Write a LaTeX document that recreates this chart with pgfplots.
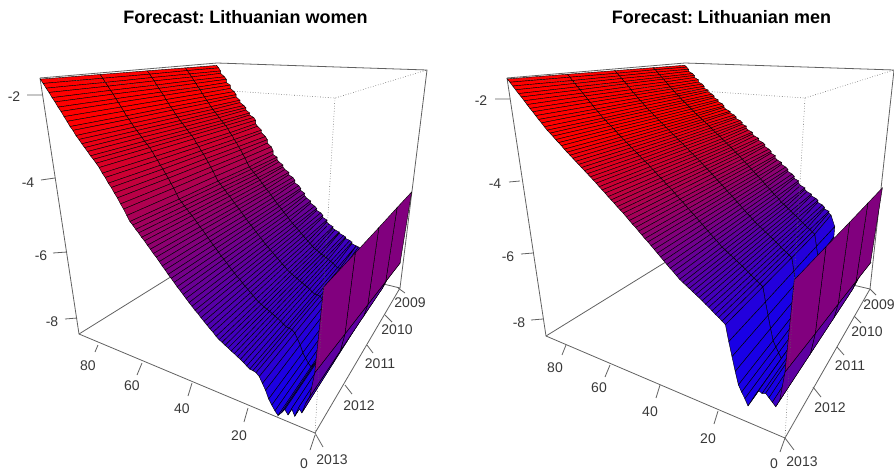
\documentclass[border=0pt]{standalone}
\usepackage{fontspec}
\setmainfont{Liberation Sans}
\usepackage{pgfplots}
\pgfplotsset{compat=1.18}
\colorlet{boxc}{black!62}
\colorlet{txtc}{black!78}
\tikzset{lab/.style={font=\fontsize{14}{14}\selectfont,text=txtc,inner sep=0pt},
 ttl/.style={font=\fontsize{18}{18}\selectfont\bfseries\frenchspacing,text=black,inner sep=0pt}}
\pgfplotsset{
 prj/.style n args={6}{
  /pgfplots/table/x expr={#2+(335+(#3)*((#1-floor(\coordindex/5))/90)+429*(1-mod(\coordindex,5)/4)+87*(#5+(-2-\thisrowno{0})*#6))/(1+0.46*((#1-floor(\coordindex/5))/90)+0.79*(1-mod(\coordindex,5)/4)+0.34*(#5+(-2-\thisrowno{0})*#6))},
  /pgfplots/table/y expr={(98+15.9*((#1-floor(\coordindex/5))/90)+31.6*(1-mod(\coordindex,5)/4)+(#4)*(#5+(-2-\thisrowno{0})*#6))/(1+0.46*((#1-floor(\coordindex/5))/90)+0.79*(1-mod(\coordindex,5)/4)+0.34*(#5+(-2-\thisrowno{0})*#6))}
 }
}
\begin{document}
\begin{tikzpicture}[x=1pt,y=1pt]
\useasboundingbox (0,0) rectangle (894,472);
\clip (0,0) rectangle (894,472);
\begin{axis}[at={(0,0)},anchor=south west,scale only axis,width=894pt,height=472pt,
 xmin=0,xmax=894,ymin=0,ymax=472,y dir=reverse,axis lines=none,clip=false,
 colormap={rb}{rgb255=(25,0,230) rgb255=(255,0,0)},point meta min=0,point meta max=1000]
% ---- box, back part, left
\draw[boxc,line width=.8pt] (40,78)--(79,334)--(315,433)--(400,288)--(427,70)--(217,63)--(40,78);
\draw[boxc,line width=.8pt] (79,334)--(222,245)--(400,288);
% ---- women: rows age 90..1, columns 2009..2013
\addplot[surf,shader=faceted,faceted color=black,line width=.42pt,mesh/cols=5,
 point meta={ifthenelse(\coordindex>434,300,max(0,min(1000,1000*(\thisrowno{0}+8)/5.5)))}]
 table[row sep=crcr,header=false,prj={90}{0}{-276.5}{482}{0.0551}{0.147}]{
-1.65\\-1.65\\-1.65\\-1.65\\-1.65\\
-1.73\\-1.73\\-1.74\\-1.74\\-1.74\\
-1.83\\-1.83\\-1.83\\-1.84\\-1.84\\
-1.91\\-1.92\\-1.92\\-1.93\\-1.93\\
-2.02\\-2.02\\-2.03\\-2.03\\-2.04\\
-2.10\\-2.11\\-2.12\\-2.12\\-2.13\\
-2.21\\-2.22\\-2.22\\-2.23\\-2.24\\
-2.29\\-2.30\\-2.31\\-2.32\\-2.33\\
-2.40\\-2.41\\-2.42\\-2.43\\-2.44\\
-2.50\\-2.51\\-2.52\\-2.53\\-2.54\\
-2.60\\-2.61\\-2.62\\-2.64\\-2.65\\
-2.68\\-2.69\\-2.70\\-2.72\\-2.73\\
-2.78\\-2.80\\-2.81\\-2.82\\-2.84\\
-2.86\\-2.88\\-2.89\\-2.91\\-2.92\\
-2.95\\-2.96\\-2.98\\-2.99\\-3.01\\
-3.02\\-3.04\\-3.05\\-3.07\\-3.09\\
-3.10\\-3.12\\-3.14\\-3.15\\-3.17\\
-3.19\\-3.21\\-3.22\\-3.24\\-3.26\\
-3.26\\-3.28\\-3.30\\-3.31\\-3.33\\
-3.33\\-3.35\\-3.37\\-3.39\\-3.41\\
-3.42\\-3.44\\-3.46\\-3.48\\-3.50\\
-3.54\\-3.56\\-3.58\\-3.60\\-3.62\\
-3.62\\-3.64\\-3.67\\-3.69\\-3.71\\
-3.74\\-3.76\\-3.78\\-3.81\\-3.83\\
-3.83\\-3.85\\-3.87\\-3.90\\-3.92\\
-3.95\\-3.97\\-3.99\\-4.02\\-4.04\\
-4.05\\-4.07\\-4.09\\-4.12\\-4.14\\
-4.17\\-4.20\\-4.22\\-4.25\\-4.27\\
-4.28\\-4.31\\-4.33\\-4.36\\-4.38\\
-4.42\\-4.45\\-4.47\\-4.50\\-4.52\\
-4.55\\-4.58\\-4.60\\-4.63\\-4.65\\
-4.62\\-4.65\\-4.67\\-4.70\\-4.72\\
-4.71\\-4.74\\-4.76\\-4.79\\-4.81\\
-4.78\\-4.81\\-4.83\\-4.86\\-4.88\\
-4.87\\-4.89\\-4.92\\-4.95\\-4.97\\
-4.94\\-4.96\\-4.99\\-5.01\\-5.04\\
-5.02\\-5.05\\-5.08\\-5.10\\-5.13\\
-5.10\\-5.13\\-5.16\\-5.18\\-5.21\\
-5.19\\-5.22\\-5.25\\-5.27\\-5.30\\
-5.26\\-5.29\\-5.32\\-5.34\\-5.37\\
-5.35\\-5.38\\-5.41\\-5.43\\-5.46\\
-5.44\\-5.47\\-5.50\\-5.52\\-5.55\\
-5.52\\-5.55\\-5.58\\-5.60\\-5.63\\
-5.61\\-5.64\\-5.67\\-5.69\\-5.72\\
-5.68\\-5.71\\-5.74\\-5.77\\-5.80\\
-5.76\\-5.79\\-5.82\\-5.85\\-5.88\\
-5.85\\-5.88\\-5.91\\-5.94\\-5.97\\
-5.92\\-5.95\\-5.98\\-6.01\\-6.04\\
-6.00\\-6.03\\-6.06\\-6.09\\-6.12\\
-6.08\\-6.11\\-6.14\\-6.17\\-6.20\\
-6.16\\-6.19\\-6.22\\-6.25\\-6.28\\
-6.23\\-6.26\\-6.29\\-6.32\\-6.35\\
-6.30\\-6.33\\-6.36\\-6.40\\-6.43\\
-6.36\\-6.39\\-6.43\\-6.46\\-6.49\\
-6.44\\-6.47\\-6.50\\-6.54\\-6.57\\
-6.51\\-6.54\\-6.57\\-6.61\\-6.64\\
-6.58\\-6.61\\-6.64\\-6.68\\-6.71\\
-6.65\\-6.68\\-6.71\\-6.75\\-6.78\\
-6.71\\-6.74\\-6.77\\-6.81\\-6.84\\
-6.78\\-6.82\\-6.85\\-6.89\\-6.92\\
-6.84\\-6.88\\-6.91\\-6.95\\-6.98\\
-6.88\\-6.92\\-6.95\\-6.99\\-7.02\\
-6.93\\-6.97\\-7.00\\-7.04\\-7.07\\
-6.97\\-7.01\\-7.04\\-7.08\\-7.11\\
-7.02\\-7.05\\-7.09\\-7.12\\-7.16\\
-7.06\\-7.09\\-7.13\\-7.16\\-7.20\\
-7.11\\-7.14\\-7.18\\-7.21\\-7.25\\
-7.15\\-7.18\\-7.22\\-7.25\\-7.29\\
-7.20\\-7.23\\-7.27\\-7.30\\-7.34\\
-7.25\\-7.29\\-7.33\\-7.36\\-7.40\\
-7.30\\-7.34\\-7.38\\-7.41\\-7.45\\
-7.30\\-7.34\\-7.38\\-7.42\\-7.46\\
-7.32\\-7.36\\-7.40\\-7.44\\-7.48\\
-7.38\\-7.42\\-7.47\\-7.51\\-7.55\\
-7.52\\-7.56\\-7.61\\-7.65\\-7.70\\
-7.66\\-7.71\\-7.76\\-7.80\\-7.85\\
-7.85\\-7.90\\-7.95\\-8.00\\-8.05\\
-7.98\\-8.03\\-8.08\\-8.13\\-8.18\\
-8.08\\-8.14\\-8.19\\-8.25\\-8.30\\
-8.15\\-8.21\\-8.27\\-8.33\\-8.39\\
-8.05\\-8.11\\-8.17\\-8.22\\-8.28\\
-7.95\\-8.00\\-8.05\\-8.10\\-8.15\\
-8.05\\-8.10\\-8.15\\-8.21\\-8.26\\
-7.90\\-7.94\\-7.98\\-8.01\\-8.05\\
-8.02\\-8.07\\-8.12\\-8.17\\-8.22\\
-7.85\\-7.87\\-7.90\\-7.93\\-7.95\\
-7.90\\-7.94\\-7.98\\-8.01\\-8.05\\
-7.65\\-7.67\\-7.70\\-7.73\\-7.75\\
-7.70\\-7.66\\-7.62\\-7.58\\-7.55\\
-7.56\\-7.40\\-7.24\\-7.08\\-6.92\\
};
% women: the facet between age 1 and age 0
\addplot[surf,shader=faceted,faceted color=black,line width=.42pt,mesh/cols=5,point meta={450}]
 table[row sep=crcr,header=false,prj={1}{0}{-276.5}{482}{0.0551}{0.147}]{
-7.56\\-7.40\\-7.24\\-7.08\\-6.92\\
-5.12\\-5.08\\-5.05\\-5.01\\-4.97\\
};
% ---- box, front dotted, left
\draw[boxc,line width=.6pt,dotted] (40,78)--(335,98)--(427,70);
\draw[boxc,line width=.6pt,dotted] (335,98)--(315,433);
% ---- ticks, left
\draw[boxc,line width=.8pt] (42,95)--(27,95) (55,178)--(41,180) (67,252)--(53,253) (77,318)--(65,319)
 (98,345)--(95,352) (142,363)--(137,375) (192,383)--(188,396) (248,408)--(244,422) (315,435)--(310,450)
 (398,288)--(405,293) (385,315)--(392,322) (367,345)--(373,353) (345,385)--(352,394) (315,433)--(323,447);
\node[lab] at (14,97) {-2}; \node[lab] at (28,183) {-4}; \node[lab] at (41,256) {-6}; \node[lab] at (52,322) {-8};
\node[lab] at (88,366) {80}; \node[lab] at (132,386) {60}; \node[lab] at (182,409) {40}; \node[lab] at (239,436) {20}; \node[lab] at (304,464) {0};
\node[lab] at (410,303) {2009}; \node[lab] at (397,330) {2010}; \node[lab] at (380,364) {2011}; \node[lab] at (359,406) {2012}; \node[lab] at (332,460) {2013};
\node[ttl] at (245.5,17) {Forecast: Lithuanian women};
% ---- box, back part, right
\draw[boxc,line width=.8pt] (507,78)--(546,336)--(785,438)--(870,289)--(894,70)--(685,63)--(507,78);
\draw[boxc,line width=.8pt] (546,336)--(690,247)--(870,289);
% ---- men
\addplot[surf,shader=faceted,faceted color=black,line width=.42pt,mesh/cols=5,
 point meta={ifthenelse(\coordindex>434,300,max(0,min(1000,1000*(\thisrowno{0}+6.5)/3.6)))}]
 table[row sep=crcr,header=false,prj={90}{470}{-281}{489}{0.0672}{0.143}]{
-1.55\\-1.55\\-1.55\\-1.55\\-1.55\\
-1.61\\-1.61\\-1.62\\-1.62\\-1.62\\
-1.68\\-1.68\\-1.69\\-1.70\\-1.70\\
-1.75\\-1.76\\-1.76\\-1.77\\-1.78\\
-1.82\\-1.83\\-1.84\\-1.85\\-1.86\\
-1.88\\-1.89\\-1.90\\-1.92\\-1.93\\
-1.95\\-1.97\\-1.98\\-2.00\\-2.01\\
-2.02\\-2.04\\-2.06\\-2.07\\-2.09\\
-2.10\\-2.12\\-2.14\\-2.15\\-2.17\\
-2.16\\-2.18\\-2.20\\-2.22\\-2.24\\
-2.23\\-2.25\\-2.28\\-2.30\\-2.32\\
-2.30\\-2.33\\-2.35\\-2.38\\-2.40\\
-2.35\\-2.38\\-2.41\\-2.44\\-2.47\\
-2.41\\-2.45\\-2.48\\-2.52\\-2.55\\
-2.48\\-2.52\\-2.55\\-2.59\\-2.62\\
-2.54\\-2.57\\-2.61\\-2.64\\-2.68\\
-2.60\\-2.64\\-2.67\\-2.71\\-2.74\\
-2.66\\-2.70\\-2.74\\-2.77\\-2.81\\
-2.72\\-2.76\\-2.80\\-2.83\\-2.87\\
-2.78\\-2.82\\-2.86\\-2.89\\-2.93\\
-2.85\\-2.89\\-2.92\\-2.96\\-3.00\\
-2.90\\-2.94\\-2.98\\-3.02\\-3.06\\
-2.96\\-3.00\\-3.04\\-3.08\\-3.12\\
-3.02\\-3.06\\-3.10\\-3.14\\-3.18\\
-3.07\\-3.11\\-3.16\\-3.20\\-3.24\\
-3.13\\-3.17\\-3.22\\-3.26\\-3.30\\
-3.19\\-3.23\\-3.28\\-3.32\\-3.36\\
-3.25\\-3.29\\-3.34\\-3.38\\-3.42\\
-3.30\\-3.35\\-3.39\\-3.44\\-3.48\\
-3.36\\-3.41\\-3.45\\-3.50\\-3.54\\
-3.42\\-3.47\\-3.51\\-3.56\\-3.60\\
-3.47\\-3.52\\-3.57\\-3.61\\-3.66\\
-3.54\\-3.59\\-3.64\\-3.68\\-3.73\\
-3.60\\-3.65\\-3.70\\-3.74\\-3.79\\
-3.66\\-3.71\\-3.76\\-3.80\\-3.85\\
-3.72\\-3.77\\-3.82\\-3.87\\-3.92\\
-3.78\\-3.83\\-3.88\\-3.93\\-3.98\\
-3.84\\-3.89\\-3.94\\-3.99\\-4.04\\
-3.91\\-3.96\\-4.01\\-4.06\\-4.11\\
-3.97\\-4.02\\-4.07\\-4.12\\-4.17\\
-4.03\\-4.08\\-4.13\\-4.18\\-4.23\\
-4.10\\-4.15\\-4.20\\-4.25\\-4.30\\
-4.17\\-4.22\\-4.27\\-4.32\\-4.37\\
-4.24\\-4.29\\-4.34\\-4.39\\-4.44\\
-4.30\\-4.35\\-4.40\\-4.45\\-4.50\\
-4.37\\-4.42\\-4.47\\-4.52\\-4.57\\
-4.44\\-4.49\\-4.54\\-4.59\\-4.64\\
-4.51\\-4.56\\-4.61\\-4.66\\-4.71\\
-4.57\\-4.62\\-4.67\\-4.72\\-4.77\\
-4.64\\-4.69\\-4.74\\-4.79\\-4.84\\
-4.71\\-4.76\\-4.81\\-4.86\\-4.91\\
-4.78\\-4.83\\-4.88\\-4.93\\-4.98\\
-4.85\\-4.90\\-4.95\\-5.00\\-5.05\\
-4.92\\-4.97\\-5.02\\-5.07\\-5.12\\
-4.99\\-5.04\\-5.09\\-5.14\\-5.19\\
-5.06\\-5.11\\-5.16\\-5.21\\-5.26\\
-5.12\\-5.17\\-5.22\\-5.27\\-5.32\\
-5.19\\-5.24\\-5.29\\-5.34\\-5.39\\
-5.27\\-5.32\\-5.36\\-5.41\\-5.46\\
-5.33\\-5.37\\-5.42\\-5.46\\-5.51\\
-5.39\\-5.43\\-5.47\\-5.52\\-5.56\\
-5.45\\-5.49\\-5.53\\-5.57\\-5.61\\
-5.51\\-5.55\\-5.59\\-5.62\\-5.66\\
-5.57\\-5.61\\-5.64\\-5.68\\-5.71\\
-5.63\\-5.66\\-5.70\\-5.73\\-5.76\\
-5.69\\-5.72\\-5.75\\-5.78\\-5.81\\
-5.76\\-5.79\\-5.82\\-5.84\\-5.87\\
-5.82\\-5.85\\-5.87\\-5.90\\-5.92\\
-5.89\\-5.91\\-5.94\\-5.96\\-5.98\\
-5.95\\-5.97\\-6.00\\-6.02\\-6.04\\
-6.00\\-6.02\\-6.05\\-6.07\\-6.09\\
-6.06\\-6.08\\-6.11\\-6.13\\-6.15\\
-6.12\\-6.14\\-6.17\\-6.19\\-6.21\\
-6.50\\-6.52\\-6.55\\-6.58\\-6.60\\
-6.87\\-6.89\\-6.91\\-6.93\\-6.95\\
-7.22\\-7.24\\-7.26\\-7.28\\-7.30\\
-7.54\\-7.56\\-7.58\\-7.60\\-7.62\\
-7.70\\-7.72\\-7.74\\-7.76\\-7.78\\
-7.82\\-7.85\\-7.87\\-7.90\\-7.92\\
-7.98\\-8.00\\-8.03\\-8.05\\-8.08\\
-7.80\\-7.83\\-7.85\\-7.88\\-7.90\\
-7.62\\-7.65\\-7.67\\-7.70\\-7.72\\
-7.46\\-7.48\\-7.51\\-7.53\\-7.56\\
-7.50\\-7.53\\-7.55\\-7.58\\-7.60\\
-7.46\\-7.48\\-7.51\\-7.53\\-7.56\\
-7.54\\-7.56\\-7.59\\-7.61\\-7.64\\
-7.62\\-7.65\\-7.67\\-7.70\\-7.72\\
-7.70\\-7.73\\-7.75\\-7.78\\-7.80\\
-7.68\\-7.66\\-7.64\\-7.62\\-7.60\\
-7.52\\-7.35\\-7.18\\-7.02\\-6.85\\
};
\addplot[surf,shader=faceted,faceted color=black,line width=.42pt,mesh/cols=5,point meta={450}]
 table[row sep=crcr,header=false,prj={1}{470}{-281}{489}{0.0672}{0.143}]{
-7.52\\-7.35\\-7.18\\-7.02\\-6.85\\
-4.93\\-4.89\\-4.85\\-4.80\\-4.76\\
};
% ---- box, front dotted, right
\draw[boxc,line width=.6pt,dotted] (507,78)--(805,98)--(894,70);
\draw[boxc,line width=.6pt,dotted] (805,98)--(785,438);
% ---- ticks, right
\draw[boxc,line width=.8pt] (510,99)--(495,99) (520,181)--(509,182) (533,253)--(521,254) (543,319)--(531,320)
 (566,345)--(562,355) (610,365)--(605,377) (660,385)--(656,398) (718,411)--(714,424) (785,438)--(780,452)
 (870,289)--(876,295) (854,316)--(861,323) (837,347)--(844,355) (813,387)--(821,397) (785,438)--(794,450);
\node[lab] at (481,101) {-2}; \node[lab] at (495,184) {-4}; \node[lab] at (508,257) {-6}; \node[lab] at (519,323) {-8};
\node[lab] at (555,368) {80}; \node[lab] at (599,388) {60}; \node[lab] at (650,412) {40}; \node[lab] at (708,439) {20}; \node[lab] at (774,464) {0};
\node[lab] at (879,305) {2009}; \node[lab] at (867,332) {2010}; \node[lab] at (850,366) {2011}; \node[lab] at (830,408) {2012}; \node[lab] at (802,462) {2013};
\node[ttl] at (721.5,17) {Forecast: Lithuanian men};
\end{axis}
\end{tikzpicture}
\end{document}
